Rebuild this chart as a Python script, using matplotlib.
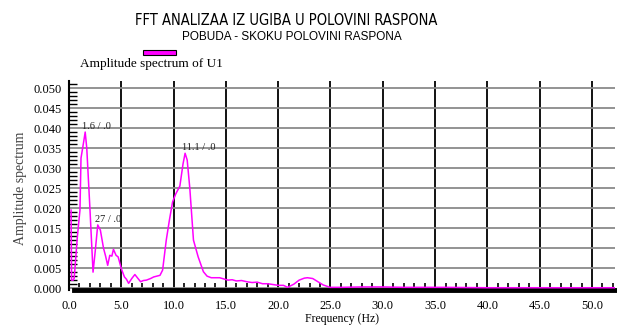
import matplotlib
matplotlib.use("Agg")
import matplotlib.pyplot as plt
from matplotlib.patches import Rectangle
from matplotlib.ticker import MultipleLocator

# amplitude spectrum of U1 (frequency in Hz, amplitude)
freq = [0.2, 0.25, 0.4, 0.5, 0.8, 1.05, 1.15, 1.4, 1.55, 1.7, 2.0, 2.3, 2.5,
        2.75, 3.0, 3.3, 3.5, 3.7, 3.9, 4.1, 4.25, 4.5, 4.7, 5.0, 5.3, 5.5,
        5.7, 6.0, 6.3, 6.6, 6.85, 7.1, 7.4, 7.8, 8.1, 8.4, 8.7, 8.95, 9.3,
        9.6, 9.9, 10.2, 10.6, 10.9, 11.1, 11.3, 11.55, 11.9, 12.35, 12.85,
        13.2, 13.6, 14.4, 15.2, 15.6, 16.0, 16.5, 17.0, 17.5, 18.0, 18.5,
        19.0, 19.5, 20.0, 20.5, 20.9, 21.5, 22.0, 22.5, 22.8, 23.3, 23.8,
        24.3, 24.95, 26.0, 28.0, 30.0, 32.0, 34.0, 36.0, 40.0, 45.0, 50.0, 52.2]
ampl = [0.0195, 0.0020, 0.0020, 0.0025, 0.0128, 0.0195, 0.0325, 0.0365,
        0.0390, 0.0350, 0.0200, 0.0040, 0.0090, 0.0158, 0.0145, 0.0100,
        0.0080, 0.0057, 0.0082, 0.0080, 0.0097, 0.0082, 0.0078, 0.0049,
        0.0028, 0.0022, 0.0012, 0.0024, 0.0034, 0.0024, 0.0016, 0.0019,
        0.0020, 0.0024, 0.0028, 0.0030, 0.0032, 0.0045, 0.0120, 0.0170,
        0.0215, 0.0235, 0.0255, 0.0310, 0.0337, 0.0320, 0.0250, 0.0120,
        0.0078, 0.0041, 0.0030, 0.0026, 0.0026, 0.0020, 0.0021, 0.0018,
        0.0019, 0.0016, 0.0014, 0.0015, 0.0011, 0.0011, 0.0009, 0.0007,
        0.0007, 0.0002, 0.0010, 0.0020, 0.0025, 0.0026, 0.0024, 0.0016,
        0.0008, 0.0002, 0.0002, 0.0003, 0.0003, 0.0002, 0.0002, 0.0002,
        0.0001, 0.0001, 0.0001, 0.0001]

# peak labels: (frequency, amplitude, text)
peaks = [(1.55, 0.0390, "1.6 / .0"),
         (2.75, 0.0158, "27 / .0"),
         (11.1, 0.0337, "11.1 / .0")]

xticks = [0.0, 5.0, 10.0, 15.0, 20.0, 25.0, 30.0, 35.0, 40.0, 45.0, 50.0]
yticks = [0.000, 0.005, 0.010, 0.015, 0.020, 0.025, 0.030, 0.035, 0.040, 0.045, 0.050]

serif = "Liberation Serif"
magenta = "#ff00ff"

fig = plt.figure(figsize=(6.17, 3.26), dpi=100)
ax = fig.add_axes([0.1118, 0.110, 0.885, 0.6415])

ax.plot(freq, ampl, color=magenta, lw=1.1, zorder=3)

for f, a, txt in peaks:
    ax.annotate(txt, (f, a), xytext=(-2, 1), textcoords="offset points",
                fontsize=7.5, family=serif, color="#222222", va="bottom")

ax.set_xlim(0, 52.2)
ax.set_ylim(-0.0005, 0.05175)
ax.set_xticks(xticks)
ax.set_xticklabels([f"{v:.1f}" for v in xticks], family=serif, fontsize=9)
ax.set_yticks(yticks)
ax.set_yticklabels([f"{v:.3f}" for v in yticks], family=serif, fontsize=9)
ax.xaxis.set_minor_locator(MultipleLocator(1))
ax.yaxis.set_minor_locator(MultipleLocator(0.001))
ax.tick_params(axis="x", which="major", length=0, pad=7)
ax.tick_params(axis="y", which="major", length=0, pad=5)
ax.tick_params(axis="x", which="minor", direction="in", length=5, width=1.2)
ax.tick_params(axis="y", which="minor", direction="in", length=6, width=1.0)

ax.grid(axis="x", color="black", lw=1.3)
ax.grid(axis="y", color="#8a8a8a", lw=1.3)
ax.set_axisbelow(True)

for side in ("top", "right"):
    ax.spines[side].set_visible(False)
ax.spines["left"].set_linewidth(1.5)
ax.spines["bottom"].set_linewidth(3.5)
ax.spines["bottom"].set_bounds(0.5, 52.2)

ax.set_xlabel("Frequency (Hz)", family=serif, fontsize=8.5, labelpad=1)
fig.text(0.034, 0.423, "Amplitude spectrum", rotation=90, family=serif,
         fontsize=10, color="#444444", ha="center", va="center")

fig.text(0.464, 0.937, "FFT ANALIZAA IZ UGIBA U POLOVINI RASPONA",
         family="DejaVu Sans", stretch="condensed", fontsize=10.5,
         ha="center", va="center")
fig.text(0.473, 0.887, "POBUDA - SKOKU POLOVINI RASPONA",
         family="Liberation Sans", fontsize=8.5, ha="center", va="center")

# legend swatch and series name
fig.patches.append(Rectangle((143 / 617, 1 - 55 / 326), 33 / 617, 5 / 326,
                             transform=fig.transFigure, facecolor=magenta,
                             edgecolor="black", lw=0.8))
fig.text(80 / 617, 1 - 67 / 326, "Amplitude spectrum of U1", family=serif,
         fontsize=9.5, ha="left", va="baseline")

fig.savefig("out.png", dpi=100)
